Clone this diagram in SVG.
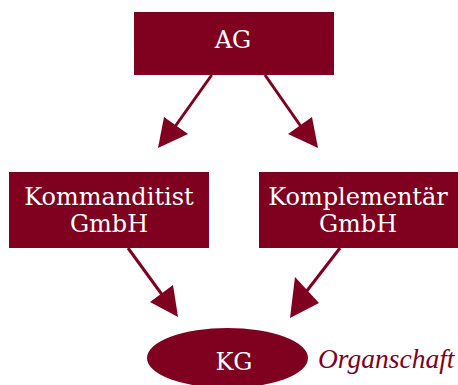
<svg xmlns="http://www.w3.org/2000/svg" width="458" height="385" viewBox="0 0 458 385">
<style>
.box{fill:#800020}
.lbl{font-family:"DejaVu Serif","Liberation Serif",serif;font-size:24px;fill:#ffffff;text-anchor:middle}
.conn line{stroke:#800020;stroke-width:3}
.conn polygon{fill:#800020}
.note{font-family:"Liberation Serif","DejaVu Serif",serif;font-style:italic;font-size:27.5px;fill:#800020}
</style>
<rect width="458" height="385" fill="#ffffff"/>
<g id="connectors" class="conn">
<line x1="211.7" y1="75" x2="174" y2="128"/>
<polygon points="158,148 164,117 188,134"/>
<line x1="265" y1="75" x2="302" y2="128"/>
<polygon points="318,148 312,117 288,134"/>
<line x1="128" y1="248" x2="163" y2="296"/>
<polygon points="178,317 150,302 173,285"/>
<line x1="340" y1="248" x2="306" y2="292"/>
<polygon points="290,318 295,277 319,303"/>
</g>
<g id="ag">
<rect class="box" x="134" y="12" width="200" height="63"/>
<text class="lbl" x="233" y="48">AG</text>
</g>
<g id="kommanditist">
<rect class="box" x="9" y="172" width="200" height="76"/>
<text class="lbl" x="109" y="205">Kommanditist</text>
<text class="lbl" x="109" y="231.5">GmbH</text>
</g>
<g id="komplementaer">
<rect class="box" x="259" y="172" width="200" height="76"/>
<text class="lbl" x="358" y="205">Komplementär</text>
<text class="lbl" x="358" y="231.5">GmbH</text>
</g>
<g id="kg">
<ellipse class="box" cx="227.5" cy="358" rx="80.5" ry="30"/>
<text class="lbl" x="234" y="370">KG</text>
<text class="note" x="318" y="368">Organschaft</text>
</g>
</svg>
